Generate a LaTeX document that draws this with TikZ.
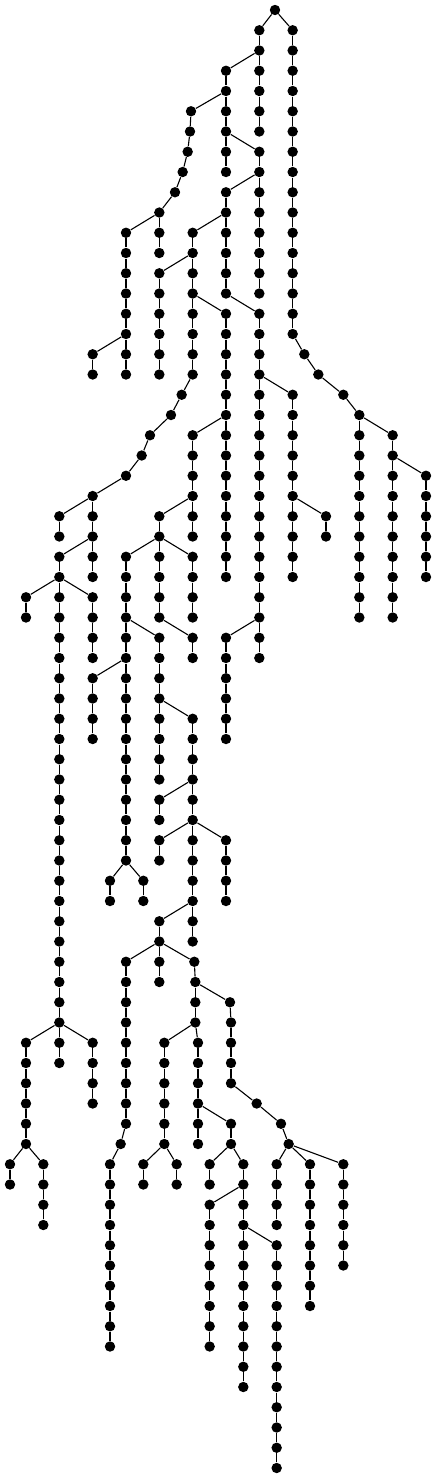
\documentclass[tikz,border=0pt]{standalone}
\tikzset{
  dot/.style={circle, fill=black, draw=none, inner sep=0pt, minimum size=5.2pt},
  edge/.style={line width=0.55pt, black}
}
\newcommand{\vchain}[4]{% #1 name-x, #2 real x, #3 from level, #4 to level
  \foreach \lv in {#3,...,#4}{\node[dot] (L\lv x#1) at (#2,\lv) {};}
  \ifnum#4>#3\relax
    \pgfmathtruncatemacro{\vcs}{#3+1}
    \foreach \lv in {\vcs,...,#4}{\pgfmathtruncatemacro{\lvp}{\lv-1}\draw[edge] (L\lvp x#1) -- (L\lv x#1);}
  \fi
}
\begin{document}
\begin{tikzpicture}[x=0.5pt,y=-10.125pt]
\useasboundingbox (0pt,0pt) rectangle (218pt,-739.5pt);
\begin{scope}[yshift=-5pt]
% ---- nodes ----
\vchain{275}{275}{0}{0}
\vchain{293}{292.67}{1}{16}
\node[dot] (L17x304) at (304.33,17) {};
\node[dot] (L18x318) at (318.33,18) {};
\node[dot] (L19x343) at (343.33,19) {};
\vchain{359}{359.33}{20}{30}
\vchain{393}{392.67}{21}{30}
\vchain{426}{426}{23}{28}
\vchain{259}{259.33}{1}{6}
\vchain{226}{226}{3}{8}
\vchain{259}{259.33}{7}{14}
\vchain{226}{226}{9}{14}
\vchain{259}{259.33}{15}{32}
\vchain{293}{292.67}{19}{28}
\vchain{326}{326}{25}{26}
\vchain{226}{226}{31}{36}
\vchain{193}{192.67}{11}{18}
\vchain{159}{159.33}{13}{18}
\vchain{226}{226}{15}{28}
\node[dot] (L19x182) at (181.67,19) {};
\node[dot] (L20x171) at (171,20) {};
\node[dot] (L21x150) at (150,21) {};
\node[dot] (L22x142) at (141.67,22) {};
\node[dot] (L23x126) at (126,23) {};
\node[dot] (L24x93) at (92.67,24) {};
\vchain{193}{192.67}{21}{26}
\vchain{159}{159.33}{25}{30}
\vchain{126}{126}{27}{42}
\vchain{193}{192.67}{27}{30}
\vchain{193}{192.67}{31}{32}
\vchain{159}{159.33}{31}{38}
\vchain{93}{92.67}{33}{36}
\vchain{110}{110}{43}{44}
\vchain{143}{143.33}{43}{44}
\vchain{193}{192.67}{35}{46}
\vchain{159}{159.33}{39}{40}
\vchain{159}{159.33}{41}{42}
\vchain{226}{226}{41}{44}
\vchain{159}{159.33}{45}{48}
\vchain{126}{126}{47}{55}
\node[dot] (L56x121) at (120.67,56) {};
\vchain{110}{110}{57}{66}
\node[dot] (L47x194) at (194.33,47) {};
\vchain{195}{195.33}{48}{50}
\vchain{164}{164.33}{51}{56}
\vchain{143}{143.33}{57}{58}
\vchain{177}{176.67}{57}{58}
\vchain{198}{198}{51}{56}
\vchain{231}{231}{55}{56}
\vchain{210}{209.67}{57}{58}
\vchain{243}{243.33}{57}{68}
\vchain{210}{209.67}{59}{66}
\vchain{277}{276.67}{61}{72}
\node[dot] (L49x230) at (230,49) {};
\vchain{231}{231}{50}{53}
\node[dot] (L54x257) at (256.67,54) {};
\node[dot] (L55x281) at (281,55) {};
\node[dot] (L56x289) at (288.67,56) {};
\vchain{277}{276.67}{57}{60}
\vchain{310}{310}{57}{64}
\vchain{343}{343.33}{57}{62}
\vchain{59}{59.33}{25}{26}
\vchain{93}{92.67}{25}{28}
\vchain{59}{59.33}{27}{52}
\vchain{26}{26}{29}{30}
\vchain{93}{92.67}{29}{32}
\vchain{26}{26}{51}{56}
\vchain{10}{10}{57}{58}
\vchain{43}{43.33}{57}{60}
\vchain{93}{92.67}{51}{54}
\node[dot] (L5x191) at (191,5) {};
\node[dot] (L6x190) at (190,6) {};
\node[dot] (L7x188) at (187.67,7) {};
\node[dot] (L8x183) at (182.67,8) {};
\node[dot] (L9x175) at (175,9) {};
\vchain{159}{159.33}{10}{12}
\vchain{126}{126}{11}{18}
\vchain{93}{92.67}{17}{18}
% ---- cross edges ----
\draw[edge] (L0x275) -- (L1x293);
\draw[edge] (L0x275) -- (L1x259);
\draw[edge] (L16x293) -- (L17x304);
\draw[edge] (L17x304) -- (L18x318);
\draw[edge] (L18x318) -- (L19x343);
\draw[edge] (L19x343) -- (L20x359);
\draw[edge] (L20x359) -- (L21x393);
\draw[edge] (L22x393) -- (L23x426);
\draw[edge] (L2x259) -- (L3x226);
\draw[edge] (L6x226) -- (L7x259);
\draw[edge] (L8x259) -- (L9x226);
\draw[edge] (L14x226) -- (L15x259);
\draw[edge] (L18x259) -- (L19x293);
\draw[edge] (L24x293) -- (L25x326);
\draw[edge] (L30x259) -- (L31x226);
\draw[edge] (L10x226) -- (L11x193);
\draw[edge] (L12x193) -- (L13x159);
\draw[edge] (L14x193) -- (L15x226);
\draw[edge] (L18x193) -- (L19x182);
\draw[edge] (L19x182) -- (L20x171);
\draw[edge] (L20x171) -- (L21x150);
\draw[edge] (L21x150) -- (L22x142);
\draw[edge] (L22x142) -- (L23x126);
\draw[edge] (L23x126) -- (L24x93);
\draw[edge] (L20x226) -- (L21x193);
\draw[edge] (L24x193) -- (L25x159);
\draw[edge] (L26x159) -- (L27x126);
\draw[edge] (L26x159) -- (L27x193);
\draw[edge] (L30x159) -- (L31x193);
\draw[edge] (L30x126) -- (L31x159);
\draw[edge] (L32x126) -- (L33x93);
\draw[edge] (L42x126) -- (L43x110);
\draw[edge] (L42x126) -- (L43x143);
\draw[edge] (L34x159) -- (L35x193);
\draw[edge] (L38x193) -- (L39x159);
\draw[edge] (L40x193) -- (L41x159);
\draw[edge] (L40x193) -- (L41x226);
\draw[edge] (L44x193) -- (L45x159);
\draw[edge] (L46x159) -- (L47x126);
\draw[edge] (L46x159) -- (L47x194);
\draw[edge] (L55x126) -- (L56x121);
\draw[edge] (L56x121) -- (L57x110);
\draw[edge] (L47x194) -- (L48x195);
\draw[edge] (L50x195) -- (L51x164);
\draw[edge] (L50x195) -- (L51x198);
\draw[edge] (L56x164) -- (L57x143);
\draw[edge] (L56x164) -- (L57x177);
\draw[edge] (L54x198) -- (L55x231);
\draw[edge] (L56x231) -- (L57x210);
\draw[edge] (L56x231) -- (L57x243);
\draw[edge] (L58x243) -- (L59x210);
\draw[edge] (L60x243) -- (L61x277);
\draw[edge] (L48x195) -- (L49x230);
\draw[edge] (L49x230) -- (L50x231);
\draw[edge] (L53x231) -- (L54x257);
\draw[edge] (L54x257) -- (L55x281);
\draw[edge] (L55x281) -- (L56x289);
\draw[edge] (L56x289) -- (L57x277);
\draw[edge] (L56x289) -- (L57x310);
\draw[edge] (L56x289) -- (L57x343);
\draw[edge] (L24x93) -- (L25x59);
\draw[edge] (L24x93) -- (L25x93);
\draw[edge] (L26x93) -- (L27x59);
\draw[edge] (L28x59) -- (L29x26);
\draw[edge] (L28x59) -- (L29x93);
\draw[edge] (L50x59) -- (L51x26);
\draw[edge] (L50x59) -- (L51x93);
\draw[edge] (L56x26) -- (L57x10);
\draw[edge] (L56x26) -- (L57x43);
\draw[edge] (L4x226) -- (L5x191);
\draw[edge] (L5x191) -- (L6x190);
\draw[edge] (L6x190) -- (L7x188);
\draw[edge] (L7x188) -- (L8x183);
\draw[edge] (L8x183) -- (L9x175);
\draw[edge] (L9x175) -- (L10x159);
\draw[edge] (L10x159) -- (L11x126);
\draw[edge] (L16x126) -- (L17x93);
\end{scope}
\end{tikzpicture}
\end{document}
